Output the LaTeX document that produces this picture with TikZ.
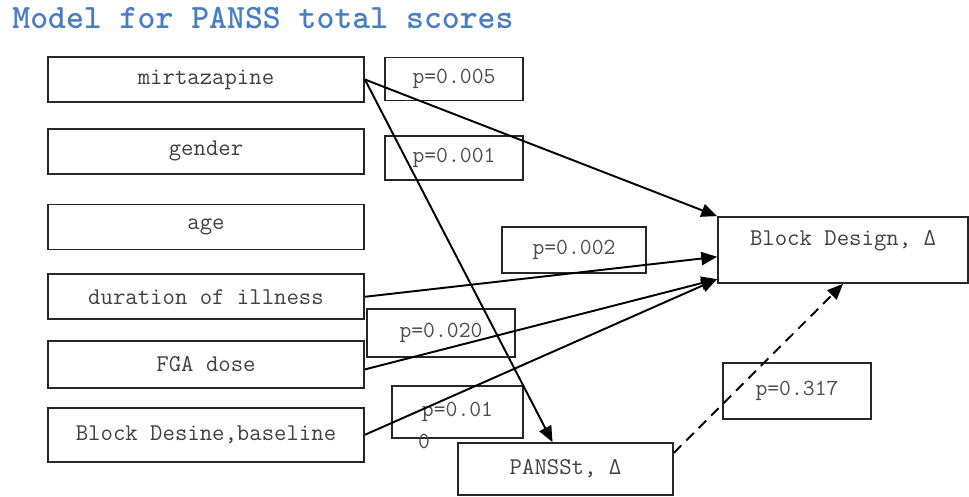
\documentclass[tikz,border=0pt]{standalone}
\usepackage{fontspec}
\usepackage{xcolor}
\usepackage{tikz}
\usetikzlibrary{arrows.meta,positioning,calc}

\definecolor{titleblue}{RGB}{72,126,194}

\begin{document}
\begin{tikzpicture}[
    node distance=0.46cm,
    var/.style={rectangle, draw=black!85, line width=1pt, text=black!75, font=\ttfamily\fontsize{13.7}{15}\selectfont, align=center, minimum width=6.32cm, minimum height=0.9cm, inner sep=2pt},
    pval/.style={rectangle, draw=black!85, line width=1pt, text=black!70, font=\ttfamily\fontsize{13.1}{15}\selectfont, align=center, minimum width=2.76cm, minimum height=0.86cm, inner sep=2pt},
    outcome/.style={var, minimum width=4.3cm, minimum height=1.04cm},
    arrow/.style={-{Triangle[length=9pt,width=7.5pt]}, draw=black, line width=1.1pt},
    dasharrow/.style={arrow, dash pattern=on 6pt off 4pt}
]
    \useasboundingbox (0,0) rectangle (19.38,-9.92);

    % Title
    \node[font=\ttfamily\bfseries\fontsize{19.4}{22}\selectfont, text=titleblue, anchor=base west, inner sep=0pt] (title) at (0.24,-0.56) {Model for PANSS total scores};

    % Predictors
    \node[var] (mirt) at (4.12,-1.59) {mirtazapine};
    \node[var, below=0.5cm of mirt] (gender) {gender};
    \node[var, below=0.58cm of gender] (age) {age};
    \node[var, below=of age] (dur) {duration of illness};
    \node[var, minimum height=0.94cm, below=0.4cm of dur] (fga) {FGA dose};
    \node[var, minimum height=1.08cm, below=0.36cm of fga] (base) {Block Desine,baseline};

    % Outcomes
    \node[outcome, minimum width=5cm, minimum height=1.32cm, text height=14pt, text depth=19.5pt] (bd) at (16.86,-5.0) {Block Design, Δ};
    \node[outcome] (pan) at (11.31,-9.38) {PANSSt, Δ};

    % p-values
    \node[pval] (p005) at (9.08,-1.58) {p=0.005};
    \node[pval, minimum height=0.88cm] (p001) at (9.08,-3.16) {p=0.001};
    \node[pval, minimum width=2.88cm, minimum height=0.92cm] (p002) at (11.48,-5.0) {p=0.002};
    \node[pval, minimum width=2.96cm, minimum height=0.96cm] (p020) at (8.82,-6.66) {p=0.020};
    \node[pval, minimum width=2.62cm, minimum height=1.04cm] (p010) at (9.15,-8.24) {p=0.01};
    \node[font=\ttfamily\fontsize{13.1}{15}\selectfont, text=black!70, inner sep=0pt] (p010wrap) at ($(p010.south west)+(0.66,-0.06)$) {0};
    \node[pval, minimum width=2.96cm, minimum height=1.12cm] (p317) at (15.94,-7.82) {p=0.317};

    % Connections
    \draw[arrow] (mirt.east) -- (bd.north west);
    \draw[arrow] (mirt.east) -- ($(pan.north west)!0.44!(pan.north east)$);
    \draw[arrow] (dur.east) -- ($(bd.north west)!0.6!(bd.south west)$);
    \draw[arrow] ($(fga.north east)!0.6!(fga.south east)$) -- ($(bd.north west)!0.93!(bd.south west)$);
    \draw[arrow] (base.east) -- ($(bd.north west)!0.93!(bd.south west)$);
    \draw[dasharrow] ($(pan.north east)!0.2!(pan.south east)$) -- (bd.south);
\end{tikzpicture}
\end{document}
